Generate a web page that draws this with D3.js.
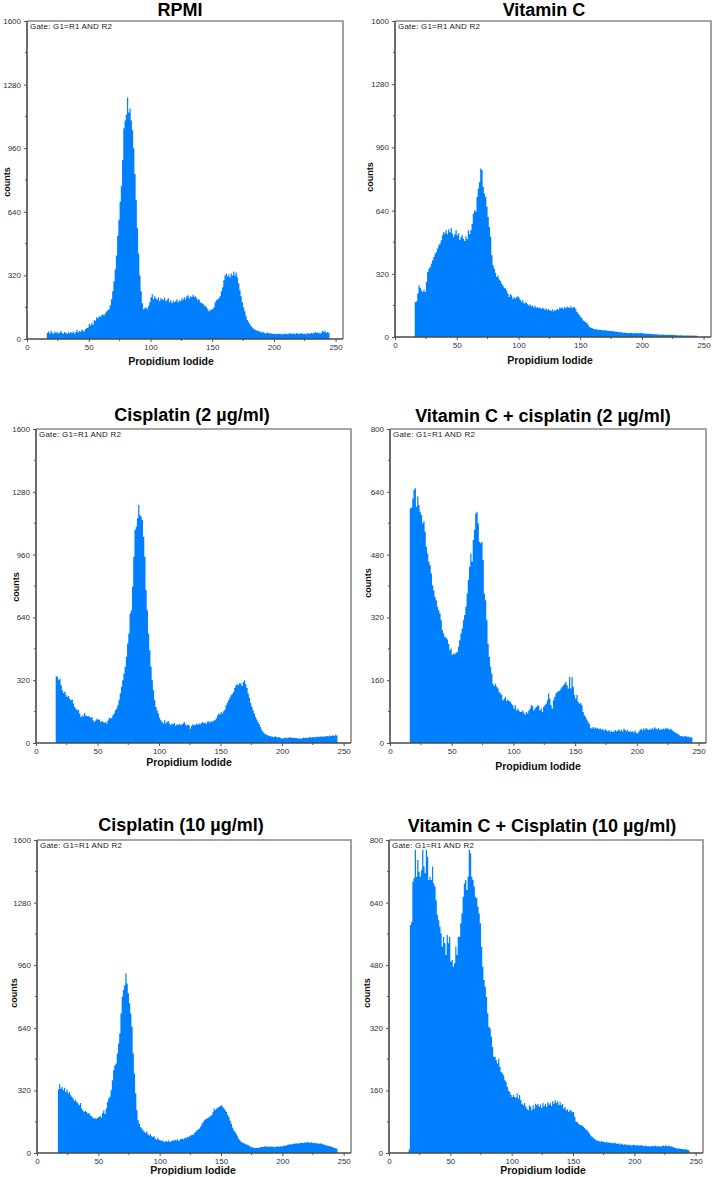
<!DOCTYPE html>
<html>
<head>
<meta charset="utf-8">
<script src="https://cdn.jsdelivr.net/npm/d3@7"></script>
<style>
  html, body { margin: 0; padding: 0; background: #fff; }
  svg { display: block; }
  text { font-family: "Liberation Sans", Arial, sans-serif; }
</style>
</head>
<body>
<script>
// ---------------- DATA ----------------
const channelStart = 16; // first channel of every counts array
const xTickValues = [0, 50, 100, 150, 200, 250];
const xDomain = [0, 256];
const yTicks1600 = [0, 320, 640, 960, 1280, 1600];
const yTicks800 = [0, 160, 320, 480, 640, 800];
const gateText = "Gate: G1=R1 AND R2";
const xAxisLabel = "Propidium Iodide";
const yAxisLabel = "counts";

const titles = [
  "RPMI",
  "Vitamin C",
  "Cisplatin (2 µg/ml)",
  "Vitamin C + cisplatin (2 µg/ml)",
  "Cisplatin (10 µg/ml)",
  "Vitamin C + Cisplatin (10 µg/ml)"
];
const yMaxes = [1600, 1600, 1600, 800, 1600, 800];

const rpmiCounts = [
  30,38,28,40,32,26,38,30,36,28, 33,40,30,27,35,30,26,33,29,35,
  30,38,28,34,45,33,40,36,48,42, 38,50,55,58,75,68,80,72,95,90,
  110,105,115,112,120,125,118,130,138,145, 150,170,200,240,290,350,420,520,600,690,
  770,900,1060,1100,1130,1215,1140,1160,1100,1050, 960,830,700,560,430,320,240,180,150,155,
  160,150,165,185,210,225,200,215,205,198, 210,190,205,200,195,208,190,198,205,185,
  195,180,192,185,190,200,185,195,190,205, 198,210,200,215,220,205,215,210,222,212,
  215,205,195,200,185,180,178,170,165,160, 150,140,145,148,150,160,185,195,200,205,
  215,240,260,295,320,330,315,325,310,330, 320,340,320,335,310,280,245,215,185,160,
  140,115,95,85,75,65,58,52,48,45, 40,42,36,38,32,35,30,28,33,30,
  27,30,25,28,25,24,28,25,27,24, 26,23,28,25,27,24,30,26,28,25,
  29,24,30,26,28,25,30,27,25,28, 24,30,27,26,32,28,30,35,30,33,
  30,28,32,42,35,40,30,35,32
];

const vitaminCCounts = [
  177,180,220,262,250,236,228,240,228,279, 329,346,355,372,389,405,422,431,448,465,
  473,490,515,532,524,540,520,544,530,552, 524,507,520,540,515,525,493,505,515,498,
  486,510,495,540,520,540,574,625,642,635, 709,752,785,853,845,760,726,709,659,608,
  557,507,414,363,346,324,304,312,291,284, 270,260,250,245,236,220,203,216,211,194,
  203,194,203,206,199,189,177,186,169,175, 172,166,159,165,155,160,150,158,148,152,
  145,150,142,148,144,138,146,135,140,135, 132,140,130,136,135,142,138,150,145,149,
  140,152,145,155,150,148,156,145,152,150, 140,127,118,110,101,95,84,80,75,71,
  62,51,48,45,42,40,38,41,36,37, 35,37,33,35,34,32,33,30,31,30,
  28,30,26,27,25,26,23,25,22,22, 23,20,22,19,20,21,18,20,19,19,
  20,18,21,19,20,17,18,16,17,17, 15,16,14,15,14,13,14,12,13,12,
  12,13,11,12,12,10,11,12,10,11, 9,10,8,9,8,9,7,8,8,7,
  8,7,7,6,7,6,7,6,6
];

const cis2Counts = [
  340,337,320,328,294,269,255,262,243,235, 240,226,218,222,201,184,175,167,170,150,
  133,141,135,153,140,136,138,134,129,133, 116,107,115,124,118,120,107,112,108,102,
  108,99,115,129,125,128,141,150,167,175, 192,218,252,286,320,354,388,439,507,558,
  660,677,796,949,1085,1102,1145,1213,1162,1153, 1136,1051,949,779,677,558,473,388,320,269,
  218,184,167,150,129,116,107,99,116,99, 107,112,99,90,99,95,102,88,95,92,
  98,90,96,100,107,95,88,94,90,73, 88,95,90,92,99,93,100,96,102,107,
  100,105,98,110,110,105,112,108,115,116, 125,140,150,145,158,150,162,170,192,205,
  218,230,243,250,260,280,294,300,294,305, 303,290,311,320,300,280,252,230,204,185,
  167,150,133,120,107,95,82,68,56,50, 44,42,39,36,34,33,32,30,34,31,
  28,30,26,24,22,25,28,24,27,27, 30,26,28,25,27,24,26,22,24,22,
  24,28,25,27,26,28,30,27,29,31, 28,32,30,33,30,34,31,35,32,34,
  36,33,38,35,37,40,36,42,38
];

const vitCCis2Counts = [
  598,600,623,645,649,602,628,606,589,581, 560,565,538,500,483,462,453,432,402,389,
  372,364,347,338,330,313,287,279,270,268, 264,253,236,241,224,228,226,230,232,245,
  262,279,292,313,326,347,381,415,449,483, 462,517,543,585,589,560,513,509,513,466,
  381,364,313,253,219,194,177,151,145,151, 143,139,130,126,122,109,113,117,107,111,
  107,105,100,96,88,96,83,88,83,79, 79,83,77,72,79,75,83,88,96,94,
  83,88,92,96,94,83,88,79,92,96, 100,109,126,113,96,88,109,117,126,130,
  132,134,139,143,147,151,156,147,139,168, 139,168,143,122,113,122,105,100,102,96,
  79,71,66,60,54,49,39,37,41,37, 40,36,38,35,37,34,36,32,35,32,
  30,33,28,31,28,30,33,29,32,35, 30,34,29,36,34,30,33,28,31,28,
  30,27,32,26,24,28,33,36,32,37, 34,38,35,33,36,34,38,35,40,37,
  35,38,33,36,34,37,35,39,36,37, 34,36,33,30,28,26,24,22,20,17,
  18,16,17,18,15,17,14,15,14
];

const cis10Counts = [
  0,324,352,329,338,321,334,312,325,304, 312,295,287,278,266,272,261,253,244,255,
  227,218,210,215,210,201,205,193,188,181, 176,178,175,180,184,190,182,205,218,200,
  227,261,278,287,321,372,423,449,457,509, 560,611,713,799,833,858,918,867,816,765,
  713,645,509,406,304,218,167,150,133,125, 116,108,102,110,96,90,96,85,82,85,
  73,68,78,68,65,61,65,56,60,61, 56,65,56,60,65,62,68,64,70,61,
  68,72,73,70,78,75,82,80,88,90, 95,92,102,108,116,120,125,135,150,158,
  167,172,176,180,184,190,193,210,227,220, 227,232,235,240,244,235,227,218,210,195,
  184,165,150,130,116,108,99,85,73,65, 56,54,51,47,44,42,39,35,31,29,
  27,26,27,26,26,28,30,32,31,34, 32,35,31,33,31,34,32,30,33,31,
  34,32,35,33,34,38,36,40,42,44, 45,43,47,46,48,50,47,49,52,51,
  53,50,55,52,56,54,53,55,52,51, 50,53,49,48,47,50,46,43,42,39,
  38,36,34,35,31,28,25,24,22
];

const vitCCis10Counts = [
  9,583,590,693,702,775,706,749,719,706, 723,775,732,715,775,757,698,706,698,732,
  689,681,646,608,595,578,561,527,553,536, 506,557,536,553,489,493,476,485,527,506,
  553,553,587,612,655,689,698,672,706,775, 766,706,698,681,655,651,630,612,587,527,
  476,442,425,399,357,323,318,297,271,246, 246,237,229,241,220,207,203,199,186,182,
  169,160,156,148,143,148,143,141,152,139, 148,135,126,122,128,119,113,109,122,118,
  109,122,113,126,122,126,118,124,115,128, 120,126,118,130,124,128,120,132,126,135,
  128,132,122,130,122,125,113,118,109,112, 105,110,108,104,105,92,79,80,75,72,
  71,70,67,64,60,58,54,50,45,42, 39,36,34,32,31,30,29,31,28,28,
  27,29,26,27,26,25,27,24,26,24, 23,25,22,24,22,21,23,20,22,20,
  21,19,20,21,20,19,21,18,20,20, 19,18,17,19,17,18,16,18,17,18,
  17,19,16,18,17,16,18,19,17,20, 18,17,19,16,17,15,14,13,12,11,
  12,10,11,10,9,10,9,8,7
];

const seriesCounts = [rpmiCounts, vitaminCCounts, cis2Counts, vitCCis2Counts, cis10Counts, vitCCis10Counts];

// ---------------- LAYOUT ----------------
const W = 712, H = 1177;
const layout = [
  {L: 27,  T: 21,  R: 343, B: 339,  tx: 180, ty: 15.5,  lx: 171, ly: 364.5, cx: 9.5,   cy: 182},
  {L: 395, T: 21,  R: 711, B: 337,  tx: 544, ty: 16,    lx: 550, ly: 364,   cx: 372.5, cy: 177},
  {L: 36,  T: 429, R: 351, B: 743,  tx: 192, ty: 421,   lx: 189, ly: 766,   cx: 18.5,  cy: 587},
  {L: 390, T: 429, R: 706, B: 743,  tx: 543, ty: 421.5, lx: 538, ly: 770,   cx: 370.5, cy: 583},
  {L: 37,  T: 840, R: 351, B: 1153, tx: 181, ty: 830.5, lx: 193, ly: 1174,  cx: 16.5,  cy: 993},
  {L: 389, T: 840, R: 703, B: 1153, tx: 542, ty: 831.5, lx: 543, ly: 1173.5, cx: 369.5, cy: 993}
];
const barColor = "#0080ff";

const svg = d3.select("body").append("svg")
  .attr("width", W).attr("height", H)
  .attr("viewBox", `0 0 ${W} ${H}`);
svg.append("rect").attr("width", W).attr("height", H).attr("fill", "#fff");
const defs = svg.append("defs");

seriesCounts.forEach((counts, p) => {
  const lay = layout[p];
  const yMax = yMaxes[p];
  const yTicks = yMax === 800 ? yTicks800 : yTicks1600;
  const x = d3.scaleLinear().domain(xDomain).range([lay.L, lay.R]);
  const y = d3.scaleLinear().domain([0, yMax]).range([lay.B, lay.T]);
  const g = svg.append("g");

  defs.append("clipPath").attr("id", "plot" + p)
    .append("rect").attr("x", lay.L).attr("y", lay.T)
    .attr("width", lay.R - lay.L).attr("height", lay.B - lay.T);
  defs.append("clipPath").attr("id", "xl" + p)
    .append("rect").attr("x", lay.lx - 80).attr("y", lay.ly - 14)
    .attr("width", 160).attr("height", 15.3);

  // histogram bins: each channel drawn as a step from ch to ch+1
  const bins = counts.map((c, i) => ({ch: channelStart + i, c}));
  const stepPts = bins.concat([{ch: channelStart + counts.length, c: counts[counts.length - 1]}]);
  const area = d3.area()
    .x(d => x(d.ch))
    .y0(y(0))
    .y1(d => y(d.c))
    .curve(d3.curveStepAfter);

  g.append("g").attr("clip-path", `url(#plot${p})`)
    .append("path").datum(stepPts)
    .attr("d", area)
    .attr("fill", barColor);

  // y axis
  const yAxis = d3.axisLeft(y).tickValues(yTicks).tickSize(3).tickPadding(3)
    .tickFormat(d3.format("d"));
  const ya = g.append("g").attr("transform", `translate(${lay.L},0)`).call(yAxis);
  ya.select(".domain").remove();
  ya.selectAll("text").attr("font-size", 8).attr("fill", "#333")
    .style("font-family", "'Liberation Sans', Arial, sans-serif");
  ya.selectAll("line").attr("stroke", "#555");
  const minorY = d3.range(yTicks.length - 1).map(i => (yTicks[i] + yTicks[i + 1]) / 2);
  g.append("g").selectAll("line").data(minorY).join("line")
    .attr("x1", lay.L - 2).attr("x2", lay.L)
    .attr("y1", d => y(d)).attr("y2", d => y(d))
    .attr("stroke", "#555").attr("stroke-width", 1);

  // x axis
  const xAxis = d3.axisBottom(x).tickValues(xTickValues).tickSize(3).tickPadding(2)
    .tickFormat(d3.format("d"));
  const xa = g.append("g").attr("transform", `translate(0,${lay.B})`).call(xAxis);
  xa.select(".domain").remove();
  xa.selectAll("text").attr("font-size", 8).attr("fill", "#333")
    .style("font-family", "'Liberation Sans', Arial, sans-serif");
  xa.selectAll("line").attr("stroke", "#555");
  const minorX = d3.range(xTickValues.length - 1).map(i => (xTickValues[i] + xTickValues[i + 1]) / 2);
  g.append("g").selectAll("line").data(minorX).join("line")
    .attr("x1", d => x(d)).attr("x2", d => x(d))
    .attr("y1", lay.B).attr("y2", lay.B + 2)
    .attr("stroke", "#555").attr("stroke-width", 1);

  // frame
  g.append("path")
    .attr("d", `M${lay.L},${lay.T}H${lay.R}V${lay.B}`)
    .attr("fill", "none").attr("stroke", "#8a8a8a").attr("stroke-width", 1.6);
  g.append("path")
    .attr("d", `M${lay.L},${lay.T}V${lay.B}H${lay.R}`)
    .attr("fill", "none").attr("stroke", "#4a4a4a").attr("stroke-width", 1.6);

  // gate text
  g.append("text").attr("x", lay.L + 3).attr("y", lay.T + 7.5)
    .attr("font-size", 8).attr("fill", "#222").attr("letter-spacing", 0.2)
    .text(gateText);

  // title
  g.append("text").attr("x", lay.tx).attr("y", lay.ty)
    .attr("text-anchor", "middle").attr("font-size", 18).attr("font-weight", "bold")
    .attr("fill", "#000").text(titles[p]);

  // x label
  g.append("text").attr("x", lay.lx).attr("y", lay.ly)
    .attr("clip-path", `url(#xl${p})`)
    .attr("text-anchor", "middle").attr("font-size", 10.5).attr("font-weight", "bold")
    .attr("fill", "#111").text(xAxisLabel);

  // y label
  g.append("text")
    .attr("transform", `translate(${lay.cx},${lay.cy}) rotate(-90)`)
    .attr("text-anchor", "middle").attr("font-size", 9).attr("font-weight", "bold")
    .attr("fill", "#111").text(yAxisLabel);
});
</script>
</body>
</html>
